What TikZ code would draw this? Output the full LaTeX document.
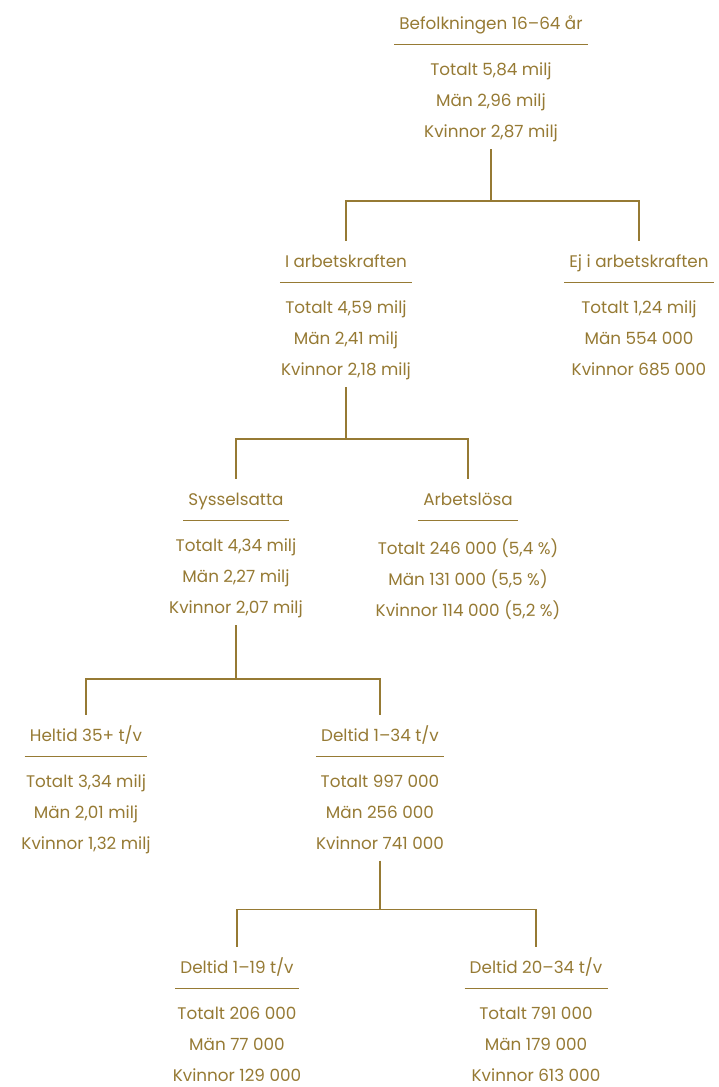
\documentclass[tikz,border=0pt]{standalone}
\usepackage{fontspec}
\setmainfont{Poppins}
\usetikzlibrary{positioning}

\definecolor{gold}{RGB}{150,122,52}
\newcommand{\datafont}{\fontsize{16.8}{31}\selectfont}

\tikzset{
  head/.style={anchor=base, inner xsep=5pt, inner ysep=0pt, text height=26pt, text depth=15pt, font=\datafont, text=gold},
  data/.style={below=18.4pt of #1, align=center, inner sep=0pt, font=\datafont, text=gold,
               execute at end node=\strut},
  link/.style={draw=gold, line width=1.2pt},
}

\begin{document}
\begin{tikzpicture}[x=1pt, y=-1pt]
\useasboundingbox (0,0) rectangle (718,1087);

% headings
\node[head] (t0) at (491,29) {Befolkningen 16–64 år};
\node[head] (t1) at (346,267) {I arbetskraften};
\node[head] (t2) at (639,267) {Ej i arbetskraften};
\node[head] (t3) at (236,505) {Sysselsatta};
\node[head] (t4) at (468,505) {Arbetslösa};
\node[head] (t5) at (86,741) {Heltid 35+ t/v};
\node[head] (t6) at (380,741) {Deltid 1–34 t/v};
\node[head] (t7) at (237,973) {Deltid 1–19 t/v};
\node[head] (t8) at (536,973) {Deltid 20–34 t/v};

\foreach \t in {t0,t1,t2,t3,t4,t5,t6,t7,t8}
  \draw[link] (\t.south west) -- (\t.south east);

% figures
\node[data=t0] (d0) {Totalt 5,84 milj\\Män 2,96 milj\\Kvinnor 2,87 milj};
\node[data=t1] (d1) {Totalt 4,59 milj\\Män 2,41 milj\\Kvinnor 2,18 milj};
\node[data=t2] (d2) {Totalt 1,24 milj\\Män 554 000\\Kvinnor 685 000};
\node[data=t3] (d3) {Totalt 4,34 milj\\Män 2,27 milj\\Kvinnor 2,07 milj};
\node[data=t4] (d4) {Totalt 246 000 (5,4 \%)\\Män 131 000 (5,5 \%)\\Kvinnor 114 000 (5,2 \%)};
\node[data=t5] (d5) {Totalt 3,34 milj\\Män 2,01 milj\\Kvinnor 1,32 milj};
\node[data=t6] (d6) {Totalt 997 000\\Män 256 000\\Kvinnor 741 000};
\node[data=t7] (d7) {Totalt 206 000\\Män 77 000\\Kvinnor 129 000};
\node[data=t8] (d8) {Totalt 791 000\\Män 179 000\\Kvinnor 613 000};

% branches
\draw[link, shorten <=2pt] (d0.south) -- ++(0,54) coordinate (j0);
\draw[link] (j0) -| (t1.north);
\draw[link] (j0) -| (t2.north);

\draw[link, shorten <=2pt] (d1.south) -- ++(0,54) coordinate (j1);
\draw[link] (j1) -| (t3.north);
\draw[link] (j1) -| (t4.north);

\draw[link, shorten <=2pt] (d3.south) -- ++(0,56) coordinate (j3);
\draw[link] (j3) -| (t5.north);
\draw[link] (j3) -| (t6.north);

\draw[link, shorten <=2pt] (d6.south) -- ++(0,51) coordinate (j6);
\draw[link] (j6) -| (t7.north);
\draw[link] (j6) -| (t8.north);
\end{tikzpicture}
\end{document}
